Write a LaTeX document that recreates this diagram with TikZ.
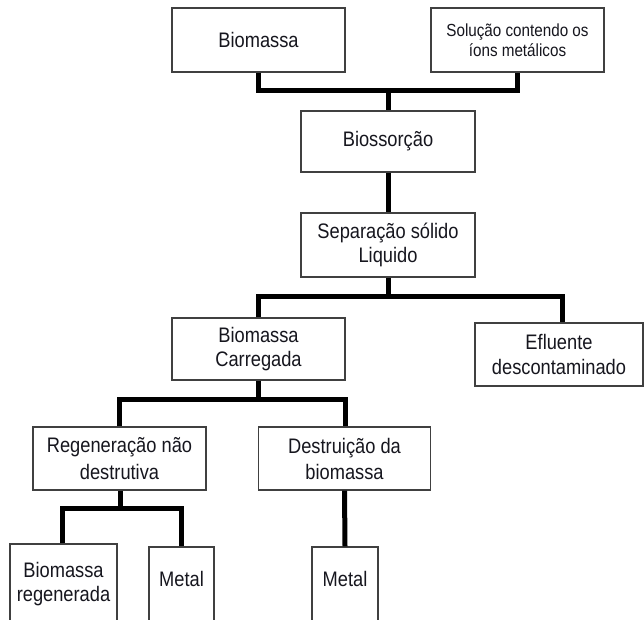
\documentclass[tikz,border=0pt]{standalone}
\usepackage{fontspec}
\setmainfont{Liberation Sans}[FakeStretch=0.87]
\definecolor{boxgray}{HTML}{404040}
\definecolor{txt}{HTML}{16161E}
\begin{document}
\begin{tikzpicture}[x=1pt,y=-1pt,
  box/.style={draw=boxgray, line width=1.2pt, inner sep=0pt, align=center, text=txt,
              font=\fontsize{21}{24}\selectfont},
  conn/.style={line width=5pt, draw=black, line join=miter}]
\useasboundingbox (0,0) rectangle (644,619);
\fill[white] (0,0) rectangle (644,619);

% boxes
\node[box, minimum width=173pt, minimum height=64pt] (bio) at (258.5,40) {Biomassa};
\node[box, minimum width=173pt, minimum height=64pt, font=\fontsize{17.5}{20}\selectfont] (sol) at (517.5,40) {Solução contendo os\\íons metálicos};
\node[box, minimum width=174pt, minimum height=61pt] (bios) at (388,141.5) {Biossorção};
\node[box, minimum width=174pt, minimum height=64pt] (sep) at (388,245) {Separação sólido\\Liquido};
\node[box, minimum width=173pt, minimum height=62pt] (carr) at (258.5,349) {Biomassa\\Carregada};
\node[box, minimum width=168pt, minimum height=63pt, font=\fontsize{21}{25}\selectfont] (efl) at (559,354.5) {Efluente\\descontaminado};
\node[box, minimum width=173pt, minimum height=63pt, font=\fontsize{21}{27}\selectfont] (reg) at (119.5,458.5) {Regeneração não\\destrutiva};
\node[box, minimum width=172pt, minimum height=63pt, font=\fontsize{21}{26}\selectfont] (des) at (344.5,458.5) {Destruição da\\biomassa};
\node[box, minimum width=107pt, minimum height=80pt] (bioreg) at (63.5,584) {Biomassa\\regenerada};
\node[box, minimum width=65pt, minimum height=80pt, text height=15.3pt, text depth=17.3pt] (met1) at (181.5,587) {Metal};
\node[box, minimum width=66pt, minimum height=80pt, text height=15.3pt, text depth=17.3pt] (met2) at (345,587) {Metal};

% junction points
\coordinate (j1) at (388,90.5);
\coordinate (j3) at (388,296);
\coordinate (j4) at (258.5,399);
\coordinate (j5) at (120,508);

% connectors
\draw[conn] (bio.south) |- (j1) -| (sol.south);
\draw[conn] (j1) -- (bios.north);
\draw[conn] (bios.south) -- (sep.north);
\draw[conn] (sep.south) -- (j3);
\draw[conn] (carr.north) |- (j3) -| ([xshift=3pt]efl.north);
\draw[conn] (carr.south) -- (j4);
\draw[conn] (reg.north) |- (j4) -| ([xshift=1pt]des.north);
\draw[conn] ([xshift=0.5pt]reg.south) -- (j5);
\draw[conn] ([xshift=-1pt]bioreg.north) |- (j5) -| (met1.north);
\draw[conn] (des.south) -- (met2.north);
\end{tikzpicture}
\end{document}
